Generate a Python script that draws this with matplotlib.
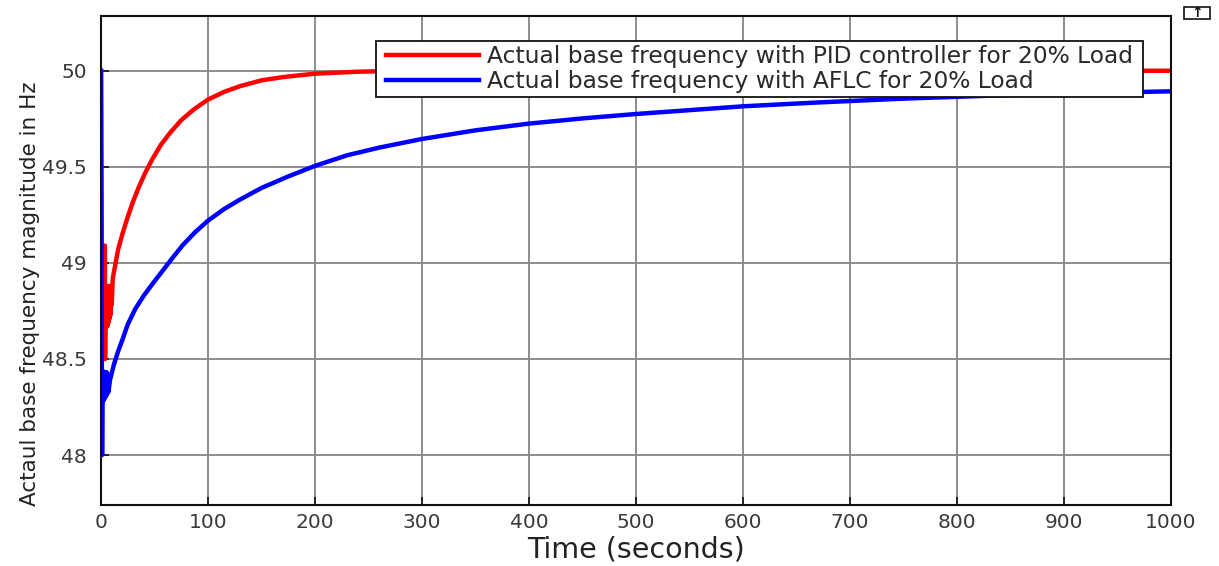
import matplotlib
matplotlib.use("Agg")
import matplotlib.pyplot as plt
from matplotlib.patches import Rectangle

# Time axis (seconds) and frequency responses (Hz)
t_pid = [0, 0.5, 3.6, 3.8, 4.4, 5.0, 5.5, 6.0, 6.5, 7.0, 7.5, 8.0, 8.5, 9.0,
         9.5, 10.0, 11.0, 13.0, 16.0, 20.0, 25.0, 30.0, 35.0, 41.0, 48.0,
         56.0, 65.0, 75.0, 87.0, 100.0, 115.0, 130.0, 150.0, 170.0, 200.0,
         240.0, 280.0, 400.0, 500.0, 600.0, 700.0, 800.0, 900.0, 1000.0]
f_pid = [50.0, 49.09, 49.09, 48.5, 48.86, 48.68, 48.88, 48.67, 48.87, 48.69,
         48.88, 48.71, 48.87, 48.73, 48.88, 48.78, 48.92, 48.98, 49.07, 49.15,
         49.24, 49.32, 49.39, 49.465, 49.54, 49.615, 49.68, 49.743, 49.80,
         49.85, 49.89, 49.92, 49.95, 49.967, 49.985, 49.995, 50.0, 50.0, 50.0,
         50.0, 50.0, 50.0, 50.0, 50.0]

t_aflc = [0, 0.5, 1.0, 1.5, 2.0, 2.5, 3.0, 3.5, 4.0, 4.5, 5.0, 5.5, 6.0, 6.5,
          7.0, 8.4, 12.0, 16.0, 20.0, 25.0, 32.0, 40.0, 48.0, 57.0, 66.0,
          76.0, 88.0, 100.0, 115.0, 130.0, 150.0, 175.0, 200.0, 230.0, 260.0,
          300.0, 350.0, 400.0, 450.0, 500.0, 550.0, 600.0, 670.0, 750.0,
          840.0, 920.0, 1000.0]
f_aflc = [50.0, 49.0, 48.0, 48.44, 48.28, 48.43, 48.29, 48.43, 48.30, 48.43,
          48.31, 48.43, 48.32, 48.42, 48.33, 48.39, 48.47, 48.54, 48.60, 48.68,
          48.76, 48.83, 48.89, 48.955, 49.02, 49.09, 49.16, 49.22, 49.28,
          49.33, 49.39, 49.45, 49.505, 49.56, 49.60, 49.645, 49.69, 49.725,
          49.752, 49.775, 49.795, 49.815, 49.835, 49.855, 49.872, 49.884,
          49.893]

series_labels = ["Actual base frequency with PID controller for 20% Load",
                 "Actual base frequency with AFLC for 20% Load"]
x_ticks = [0, 100, 200, 300, 400, 500, 600, 700, 800, 900, 1000]
y_ticks = [48, 48.5, 49, 49.5, 50]
y_tick_labels = ["48", "48.5", "49", "49.5", "50"]

plt.rcParams["font.family"] = ["DejaVu Sans"]

W, H = 1219, 566
fig = plt.figure(figsize=(W / 100, H / 100), dpi=100)
ax = fig.add_axes([101 / W, 1 - 505 / H, (1171 - 101) / W, (505 - 16) / H])

ax.plot(t_pid, f_pid, color="#ff0000", lw=3.2, solid_joinstyle="round",
        label=series_labels[0])
ax.plot(t_aflc, f_aflc, color="#0000ff", lw=3.2, solid_joinstyle="round",
        label=series_labels[1])

ax.set_xlim(0, 1000)
ax.set_ylim(47.74, 50.285)
ax.set_xticks(x_ticks)
ax.set_yticks(y_ticks)
ax.set_yticklabels(y_tick_labels)

ax.grid(True, color="#858585", lw=1.3)
ax.set_axisbelow(True)
for s in ax.spines.values():
    s.set_linewidth(1.5)
    s.set_color("#111111")
ax.tick_params(direction="in", length=6, width=1.2, colors="#111111",
               labelcolor="#3a3a3a", labelsize=14.5)
ax.tick_params(axis="x", pad=6)
ax.tick_params(axis="y", pad=10)

ax.set_xlabel("Time (seconds)", fontsize=20.5, color="#222222", labelpad=2)
ax.set_ylabel("Actaul base frequency magnitude in Hz", fontsize=15.5,
              color="#222222", labelpad=10)
ax.yaxis.set_label_coords(-0.057, 0.431)

# legend content without its own frame; a square box is drawn around it
leg = ax.legend(loc="upper right", bbox_to_anchor=(0.9645, 0.94),
                fontsize=16.8, handlelength=4.0, handletextpad=0.35,
                labelspacing=0.06, borderpad=0.0, borderaxespad=0.0,
                frameon=False)
for txt in leg.get_texts():
    txt.set_color("#2a2a2a")

fig.canvas.draw()
bb = leg.get_window_extent()
pad_x, pad_y = 10, 4
box = Rectangle(((bb.x0 - pad_x) / W, (bb.y0 - pad_y) / H),
                (bb.width + 2 * pad_x) / W, (bb.height + 2 * pad_y) / H,
                transform=fig.transFigure, facecolor="white",
                edgecolor="#111111", lw=1.3, zorder=4.5)
ax.add_artist(box)
box.set_clip_on(False)

# small toolbar glyph in the upper-right corner
fig.patches.append(Rectangle((1184 / W, 1 - 19 / H), 26 / W, 12 / H,
                             transform=fig.transFigure, fill=False,
                             edgecolor="#111111", lw=1.2))
fig.text(1197 / W, 1 - 13 / H, "\u2191", ha="center", va="center",
         fontsize=10, color="#111111", fontweight="bold")

fig.savefig("out.png", dpi=100, facecolor="white")
